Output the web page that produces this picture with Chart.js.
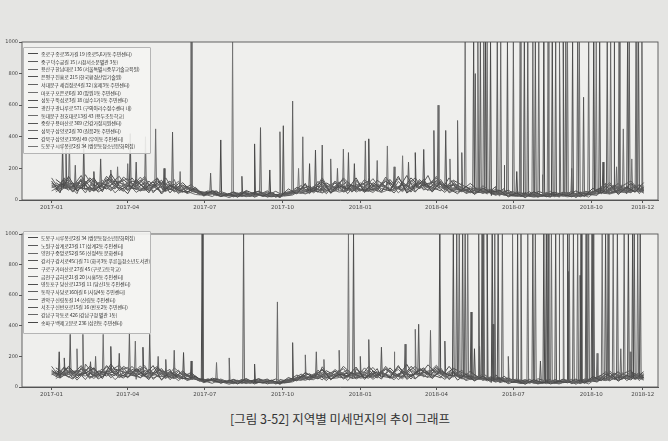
<!DOCTYPE html>
<html><head><meta charset="utf-8">
<script src="https://cdn.jsdelivr.net/npm/chart.js@4"></script>
<style>
html,body{margin:0;padding:0;background:#e5e5e3;width:668px;height:441px;overflow:hidden;font-family:"Noto Sans CJK KR",sans-serif;}
canvas{position:absolute;left:0;}
#c1{top:0;}
#c2{top:215px;}
.legend{position:absolute;border:0.8px solid #b5b5b5;background:rgba(244,244,242,0.9);font-size:5px;color:#333;line-height:7.7px;padding:2px 3px 2px 4px;box-sizing:border-box;border-radius:1px}
.legend div{white-space:nowrap;display:flex;align-items:center;letter-spacing:-0.15px}
.legend span.h{display:inline-block;width:10px;height:0;border-top:0.9px solid #777;margin-right:3px;flex:none}
#cap{position:absolute;top:409px;left:0;width:680px;text-align:center;font-size:12.5px;color:#333}
</style></head><body>
<canvas id="c1" width="668" height="215"></canvas>
<canvas id="c2" width="668" height="187"></canvas>
<div id="lg1" class="legend" style="left:23px;top:47px;width:128px;height:107px"></div>
<div id="lg2" class="legend" style="left:23px;top:231px;width:128px;height:103px"></div>
<div id="cap">[그림 3-52] 지역별 미세먼지의 추이 그래프</div>
<script>
// days since 2017-01-01
const sampleDaysA = [0,10,20,30,40,50,60,70,80,90,100,110,120,130,140,150,160,170,180,190,200,210,220,230,240,250,260,270,280,290,300,310,320,330,340,350,360,370,380,390,400,410,420,430,440,450,460,470,480,490,500,510,520,530,540,550,560,570,580,590,600,610,620,630,640,650,660,670,680,690,700];
const sampleDaysB = [5,15,25,35,45,55,65,75,85,95,105,115,125,135,145,155,165,175,185,195,205,215,225,235,245,255,265,275,285,295,305,315,325,335,345,355,365,375,385,395,405,415,425,435,445,455,465,475,485,495,505,515,525,535,545,555,565,575,585,595,605,615,625,635,645,655,665,675,685,695,700];
const tickDays = [0,90,181,273,365,455,546,638,699];
const tickLabels = ['2017-01','2017-04','2017-07','2017-10','2018-01','2018-04','2018-07','2018-10','2018-12'];
const yTicks = [0,200,400,600,800,1000];

const topStations = ['종로구 종로35가길 19 (종로5,6가동 주민센터)','중구 덕수궁길 15 (시청서소문별관 3동)','용산구 한남대로 136 (서울특별시중부기술교육원)','은평구 진흥로 215 (한국환경산업기술원)','서대문구 세검정로4길 32 (홍제3동 주민센터)','마포구 포은로6길 10 (망원1동 주민센터)','성동구 뚝섬로3길 18 (성수1가1동 주민센터)','광진구 광나루로 571 (구의아리수정수센터 내)','동대문구 천호대로13길 43 (용두초등학교)','중랑구 용마산로 369 (건강가정지원센터)','성북구 삼양로2길 70 (길음2동 주민센터)','강북구 삼양로139길 49 (우이동 주민센터)','도봉구 시루봉로2길 34 (쌍문동청소년문화의집)'];
const bottomStations = ['도봉구 시루봉로2길 34 (쌍문동청소년문화의집)','노원구 상계로23길 17 (상계2동 주민센터)','양천구 중앙로52길 56 (신정4동 문화센터)','강서구 강서로45다길 71 (화곡3동 푸른들청소년도서관)','구로구 가마산로 27길 45 (구로고등학교)','금천구 금하로21길 20 (시흥5동 주민센터)','영등포구 당산로123길 11 (당산1동 주민센터)','동작구 사당로16아길 6 (사당4동 주민센터)','관악구 신림동길 14 (신림동 주민센터)','서초구 신반포로15길 16 (반포2동 주민센터)','강남구 학동로 426 (강남구청 별관 1동)','송파구 백제고분로 236 (삼전동 주민센터)'];

const topValues = [
[120,45,150,60,98,140,52,165,88,40,130,70,115,38,95,62,48,80,30,55,22,41,18,60,35,25,48,20,70,38,105,55,128,42,90,66,140,48,110,72,58,150,44,96,130,50,118,70,40,88,35,76,28,60,20,45,15,52,30,18,40,26,58,22,75,40,98,35,82,50,110],
[60,130,85,155,50,110,95,70,145,105,55,120,65,140,50,90,70,35,58,28,45,20,52,30,40,58,18,35,48,92,40,118,60,85,130,50,95,120,55,145,80,60,125,70,155,90,48,105,80,52,70,38,85,30,55,22,40,18,35,50,25,55,20,42,60,105,48,90,120,60,75],
[95,70,118,40,160,75,125,58,110,135,80,150,45,100,72,118,40,60,25,48,35,15,40,55,22,38,30,52,35,60,82,45,98,68,115,40,100,78,135,58,115,45,98,140,62,120,85,55,95,40,62,45,70,25,48,35,20,45,28,55,18,40,30,50,45,70,38,85,55,95,42],
[75,110,50,128,80,60,150,90,55,120,100,45,135,75,60,110,55,42,48,35,28,50,25,42,55,18,35,28,45,75,60,88,40,110,58,95,70,55,125,85,45,110,68,120,85,140,60,92,58,70,48,58,35,72,30,25,52,20,42,28,55,20,45,35,30,88,55,70,45,100,65],
[140,60,95,110,45,130,80,115,150,65,90,135,55,85,120,40,88,50,38,22,55,30,45,20,48,28,42,15,55,48,95,62,140,50,80,118,58,130,68,100,62,135,90,50,115,70,130,45,105,62,40,90,50,42,25,55,30,45,22,38,30,48,15,55,50,62,110,42,65,88,50],
[50,95,72,135,60,88,118,45,98,80,145,60,100,52,130,80,65,38,52,40,30,45,22,35,30,50,25,38,60,55,70,100,52,120,75,60,108,85,65,130,95,52,108,75,90,150,68,120,50,85,55,65,42,50,38,20,35,25,48,20,45,32,40,18,62,45,78,95,52,70,90],
[105,80,130,55,120,68,100,145,60,92,70,110,85,125,45,105,52,70,28,60,40,25,35,48,18,42,22,30,40,80,52,78,115,45,105,70,125,60,95,50,130,70,155,55,100,80,58,140,65,48,82,42,60,38,62,28,50,22,35,30,22,45,35,28,52,80,60,105,40,82,60],
[65,140,55,90,130,50,85,105,130,75,60,95,140,58,85,65,98,45,40,50,28,52,30,22,45,30,55,25,32,65,48,70,95,60,140,85,55,115,80,120,70,100,50,130,75,105,92,65,115,45,68,55,30,48,45,35,28,40,20,48,35,22,50,40,38,55,95,55,100,40,85],
[88,55,105,80,70,100,65,130,75,110,48,85,98,48,110,55,75,60,32,40,25,38,20,35,40,22,30,35,28,50,58,85,45,95,62,105,50,80,58,110,55,85,65,100,70,60,110,50,88,60,45,70,40,58,30,40,25,35,30,22,38,28,42,25,40,48,65,45,72,50,70],
[110,75,90,120,65,80,135,85,70,140,75,65,120,90,70,95,60,55,45,35,38,28,48,25,35,45,20,40,50,42,65,55,80,110,50,85,90,68,100,75,60,95,80,110,60,125,75,100,60,105,60,48,55,40,35,48,22,55,38,30,50,35,25,48,55,42,70,85,62,95,55],
[78,100,62,110,90,55,105,70,120,58,118,80,75,110,90,70,45,65,36,45,32,35,28,42,26,33,40,18,38,56,42,65,70,55,95,72,80,100,48,92,75,118,60,90,120,65,102,80,70,60,50,62,45,35,40,30,38,30,25,40,28,38,22,30,45,58,42,68,75,58,62],
[130,90,108,72,140,95,70,120,100,85,125,55,105,68,100,50,82,48,42,58,34,22,45,38,55,32,26,45,52,70,88,50,108,75,85,95,62,140,72,118,88,65,140,82,105,115,80,125,95,70,75,50,65,55,28,42,35,30,45,25,40,30,50,35,68,52,88,60,105,68,78],
[58,85,70,98,65,78,90,62,95,70,78,60,88,50,70,48,55,35,30,38,22,30,25,28,35,26,20,28,36,45,38,58,45,70,50,62,75,52,68,48,62,80,52,75,95,60,82,70,52,62,45,50,36,40,28,22,30,18,26,22,30,20,28,32,35,45,38,52,45,60,48]
];
const bottomValues = [
[110,60,135,75,90,125,55,150,80,65,120,75,140,45,100,60,55,70,35,50,25,45,20,55,30,28,45,22,62,40,95,60,118,48,85,70,130,50,105,70,62,140,50,92,125,55,110,72,45,85,40,70,30,55,22,42,18,48,28,20,38,28,52,25,68,42,92,38,78,52,100],
[65,125,80,140,55,105,90,75,135,100,60,115,70,130,55,85,65,38,52,30,42,22,48,32,38,52,20,38,45,85,45,110,62,82,120,55,90,112,58,135,78,62,118,72,145,88,50,100,75,55,65,40,80,32,52,25,38,20,32,48,28,50,22,40,58,98,50,85,110,58,72],
[92,72,112,45,150,78,118,60,105,128,82,140,50,95,75,110,42,58,28,46,35,18,40,52,24,36,30,50,36,58,78,48,95,65,110,42,95,75,128,60,110,48,95,135,65,115,82,58,90,42,60,46,68,28,46,36,22,44,30,52,20,40,30,48,44,68,40,80,55,90,45],
[78,105,52,120,82,62,140,88,58,115,95,48,128,75,62,105,55,45,48,36,30,48,26,40,52,20,36,28,44,72,60,85,42,105,58,90,70,58,120,82,48,105,68,115,82,132,62,90,58,70,50,58,36,70,32,26,50,22,40,30,52,22,44,36,32,85,55,68,46,95,62],
[135,62,92,108,48,125,80,110,142,68,88,128,58,85,115,42,85,52,40,24,52,30,44,22,46,30,42,18,52,48,92,62,132,52,80,112,60,125,68,98,62,130,88,52,110,70,125,48,100,62,42,88,50,42,26,52,30,44,24,38,30,46,18,52,50,60,105,44,65,85,50],
[55,92,72,128,62,88,112,48,95,80,138,62,98,54,125,80,65,40,52,42,32,44,24,36,30,48,26,38,58,55,70,98,54,115,75,62,105,85,66,125,92,54,105,76,90,142,68,115,52,85,56,65,44,50,38,22,35,26,46,22,44,32,40,20,60,46,76,92,54,70,88],
[100,82,125,58,115,70,98,138,62,90,72,108,85,120,48,102,54,70,30,58,40,26,36,46,20,42,24,32,40,78,54,78,110,48,102,70,120,62,92,52,125,72,148,56,98,80,60,135,66,50,80,44,60,38,60,30,48,24,36,30,24,44,36,30,52,78,60,100,42,80,60],
[68,132,58,90,125,52,86,102,125,76,62,94,135,60,85,66,95,46,42,50,30,50,32,24,44,32,52,26,34,64,50,70,92,62,135,85,58,112,80,116,72,98,52,125,76,102,90,66,110,48,68,55,32,48,44,36,30,40,22,46,36,24,48,40,38,55,92,56,98,42,82],
[85,58,102,80,72,98,66,125,76,106,50,85,96,50,106,56,75,60,34,42,26,38,22,36,40,24,30,35,30,50,58,84,46,92,62,102,52,80,60,106,56,85,66,98,72,62,106,52,88,60,46,70,42,56,32,40,26,35,30,24,38,28,42,26,40,48,64,46,70,50,68],
[108,75,90,115,66,82,130,85,72,135,76,66,116,90,70,94,62,55,46,36,38,30,46,26,36,44,22,40,48,44,65,56,80,106,52,85,90,68,98,75,62,94,80,106,62,122,76,98,62,102,60,48,55,42,36,46,24,54,38,30,50,34,26,48,54,42,70,84,62,92,56],
[80,98,64,108,88,56,102,72,116,60,115,80,76,108,88,70,46,64,36,44,32,36,28,42,28,34,40,20,38,56,44,65,70,56,92,72,80,98,50,90,76,115,62,90,116,66,100,80,70,62,50,62,46,36,40,30,38,30,26,40,30,38,24,32,46,58,44,68,74,58,62],
[125,88,106,74,135,94,72,118,98,85,122,58,104,70,98,52,82,50,42,56,34,24,44,38,54,34,28,44,52,68,86,52,106,76,85,94,64,135,74,115,88,66,135,82,104,112,80,122,94,72,74,52,65,55,30,42,36,32,44,26,40,32,50,36,66,52,86,60,102,68,78]
];

// [day, peak, neighbouring value, station index]
const topSpikes = [[13,360,80,0],[17,330,75,1],[21,380,85,2],[28,220,70,4],[38,370,70,3],[50,180,60,6],[58,260,80,9],[70,190,110,4],[78,210,90,12],[90,230,80,5],[93,420,80,6],[100,240,80,1],[111,400,65,7],[123,450,90,8],[133,200,60,3],[143,430,70,9],[152,180,50,5],[165,1000,60,10],[188,170,40,7],[200,380,35,11],[214,1000,35,12],[225,150,30,9],[240,355,40,0],[247,458,40,1],[258,190,30,11],[270,432,30,2],[274,470,35,3],[285,626,45,4],[292,200,50,12],[297,400,50,5],[305,230,55,0],[312,316,55,6],[320,348,55,7],[330,260,60,2],[338,200,60,4],[345,322,60,8],[351,300,60,9],[358,230,60,6],[371,374,65,10],[375,387,65,11],[385,250,70,8],[397,342,60,12],[405,210,80,10],[415,280,90,12],[422,240,85,1],[430,300,80,0],[440,320,90,3],[452,440,85,1],[457,600,85,2],[466,440,90,3],[471,260,70,5],[480,503,70,4],[485,300,65,7],[489,1000,65,5],[499,1000,60,6],[501,800,60,7],[504,1000,55,8],[507,1000,55,9],[511,1000,55,10],[513,1000,55,11],[515,1000,55,12],[519,1000,50,0],[527,1000,45,1],[531,1000,45,2],[535,220,45,9],[539,1000,40,3],[546,1000,35,4],[550,180,35,11],[554,1000,35,5],[559,1000,35,6],[563,1000,35,7],[569,1000,30,8],[572,1000,30,9],[576,1000,30,10],[580,160,30,2],[582,1000,30,11],[587,1000,30,12],[592,1000,30,0],[596,1000,30,1],[601,1000,35,2],[605,1000,35,3],[608,1000,35,4],[610,1000,30,5],[615,200,30,4],[616,1000,30,6],[622,1000,30,7],[624,1000,30,8],[629,650,35,9],[635,1000,40,10],[641,1000,40,11],[644,1000,40,12],[648,1000,45,0],[652,240,45,6],[657,1000,45,1],[661,1000,45,2],[665,1000,50,3],[668,210,50,8],[671,1000,50,4],[676,450,55,5],[681,1000,55,6],[683,1000,55,7],[686,260,55,12],[691,1000,60,8],[694,1000,60,9],[698,1000,55,10]];
const bottomSpikes = [[9,230,80,0],[15,190,80,3],[22,344,90,1],[30,250,85,5],[37,344,80,2],[46,165,85,3],[52,200,70,4],[61,344,85,5],[70,265,100,6],[80,220,90,9],[92,357,85,7],[99,300,85,8],[108,260,80,11],[116,344,75,9],[126,200,85,10],[135,180,70,1],[145,240,60,4],[156,225,60,11],[165,170,50,6],[178,1000,45,0],[195,160,40,8],[210,190,35,10],[227,1000,35,1],[240,150,30,0],[267,556,30,2],[285,290,40,3],[300,210,50,2],[313,230,55,4],[322,180,55,8],[340,240,60,10],[351,1000,60,5],[357,1000,60,6],[365,200,65,1],[375,310,65,7],[390,260,70,3],[405,230,80,5],[418,280,85,7],[430,377,80,8],[434,410,85,9],[448,370,80,10],[459,1000,85,11],[465,300,80,9],[475,1000,75,0],[479,1000,75,1],[482,1000,70,2],[486,1000,70,3],[489,1000,70,4],[492,1000,65,5],[496,490,60,6],[500,250,60,11],[505,1000,60,7],[506,265,60,8],[509,1000,55,9],[511,1000,55,10],[515,1000,55,11],[521,1000,50,0],[522,410,50,1],[524,1000,50,2],[528,1000,45,3],[533,1000,45,4],[540,200,40,4],[545,1000,35,5],[551,1000,35,6],[555,1000,35,7],[563,1000,35,8],[569,1000,30,9],[572,1000,30,10],[578,170,30,6],[582,1000,30,11],[585,1000,30,0],[587,1000,30,1],[591,1000,30,2],[596,1000,30,3],[600,1000,35,4],[605,1000,35,5],[610,1000,35,6],[611,755,35,7],[612,1000,30,8],[617,1000,30,9],[622,1000,30,10],[625,730,35,11],[626,1000,35,0],[632,1000,35,1],[635,1000,40,2],[639,1000,40,3],[641,1000,40,4],[645,220,40,8],[651,1000,45,5],[655,1000,45,6],[658,1000,45,7],[664,1000,50,8],[669,1000,50,9],[673,250,50,10],[677,1000,55,10],[682,1000,55,11],[684,230,55,5],[687,1000,60,0],[689,1000,60,1],[693,1000,60,2],[696,1000,55,3]];

const grays = ['#4a4a4a','#5a5a5a','#686868','#525252','#626262','#707070','#4e4e4e','#5e5e5e','#6c6c6c','#565656','#666666','#474747','#747474'];

function buildSeries(vals, spikes, idx){
  const days = idx % 2 === 0 ? sampleDaysA : sampleDaysB;
  const pts = days.map((d,i)=>({x:d,y:vals[i]}));
  spikes.filter(s=>s[3]===idx).forEach(s=>{
    pts.push({x:s[0]-1,y:s[2]},{x:s[0],y:s[1]},{x:s[0]+1,y:s[2]});
  });
  pts.sort((a,b)=>a.x-b.x);
  return pts;
}

const framePlugin = {
  id:'frame',
  beforeDatasetsDraw(chart){
    const a=chart.chartArea, c=chart.ctx;
    c.save(); c.fillStyle='#efefed'; c.fillRect(a.left,a.top,a.right-a.left,a.bottom-a.top); c.restore();
  },
  afterDraw(chart){
    const a=chart.chartArea, c=chart.ctx;
    c.save(); c.strokeStyle='#555'; c.lineWidth=0.9;
    c.strokeRect(a.left,a.top,a.right-a.left,a.bottom-a.top); c.restore();
  }
};

function makeChart(id, stations, values, spikes, padTop, areaH, canvasH){
  const datasets = stations.map((s,i)=>({
    label:s,
    data:buildSeries(values[i], spikes, i),
    borderColor:grays[i%grays.length],
    borderWidth:1,
    pointRadius:0,
    tension:0,
    fill:false
  }));
  return new Chart(document.getElementById(id), {
    type:'line',
    data:{datasets},
    plugins:[framePlugin],
    options:{
      responsive:false,
      animation:false,
      events:[],
      layout:{padding:{top:padTop,right:10,left:0,bottom:0}},
      plugins:{legend:{display:false},tooltip:{enabled:false}},
      scales:{
        x:{
          type:'linear', min:-35, max:717,
          afterBuildTicks:s=>{s.ticks=tickDays.map(v=>({value:v}));},
          afterFit:s=>{s.height=canvasH-padTop-areaH;},
          ticks:{autoSkip:false,maxRotation:0,padding:1,color:'#444',font:{family:'DejaVu Sans',size:5.5},
            callback:v=>{const k=tickDays.indexOf(v);return k>=0?tickLabels[k]:'';}},
          grid:{drawOnChartArea:false,tickLength:3,color:'#555'},
          border:{color:'#555'}
        },
        y:{
          min:0,max:1000,
          afterBuildTicks:s=>{s.ticks=yTicks.map(v=>({value:v}));},
          afterFit:s=>{s.width=22;},
          ticks:{padding:1,color:'#444',font:{family:'DejaVu Sans',size:5},callback:v=>String(v)},
          grid:{drawOnChartArea:false,tickLength:3,color:'#555'},
          border:{color:'#555'}
        }
      }
    }
  });
}

makeChart('c1', topStations, topValues, topSpikes, 42, 158, 215);
makeChart('c2', bottomStations, bottomValues, bottomSpikes, 19, 153, 187);

function fillLegend(elId, stations){
  const el=document.getElementById(elId);
  stations.forEach((s,i)=>{
    const row=document.createElement('div');
    const h=document.createElement('span'); h.className='h'; h.style.borderTopColor=grays[i%grays.length];
    row.appendChild(h);
    row.appendChild(document.createTextNode(s));
    el.appendChild(row);
  });
}
fillLegend('lg1', topStations);
fillLegend('lg2', bottomStations);
</script>
</body></html>
